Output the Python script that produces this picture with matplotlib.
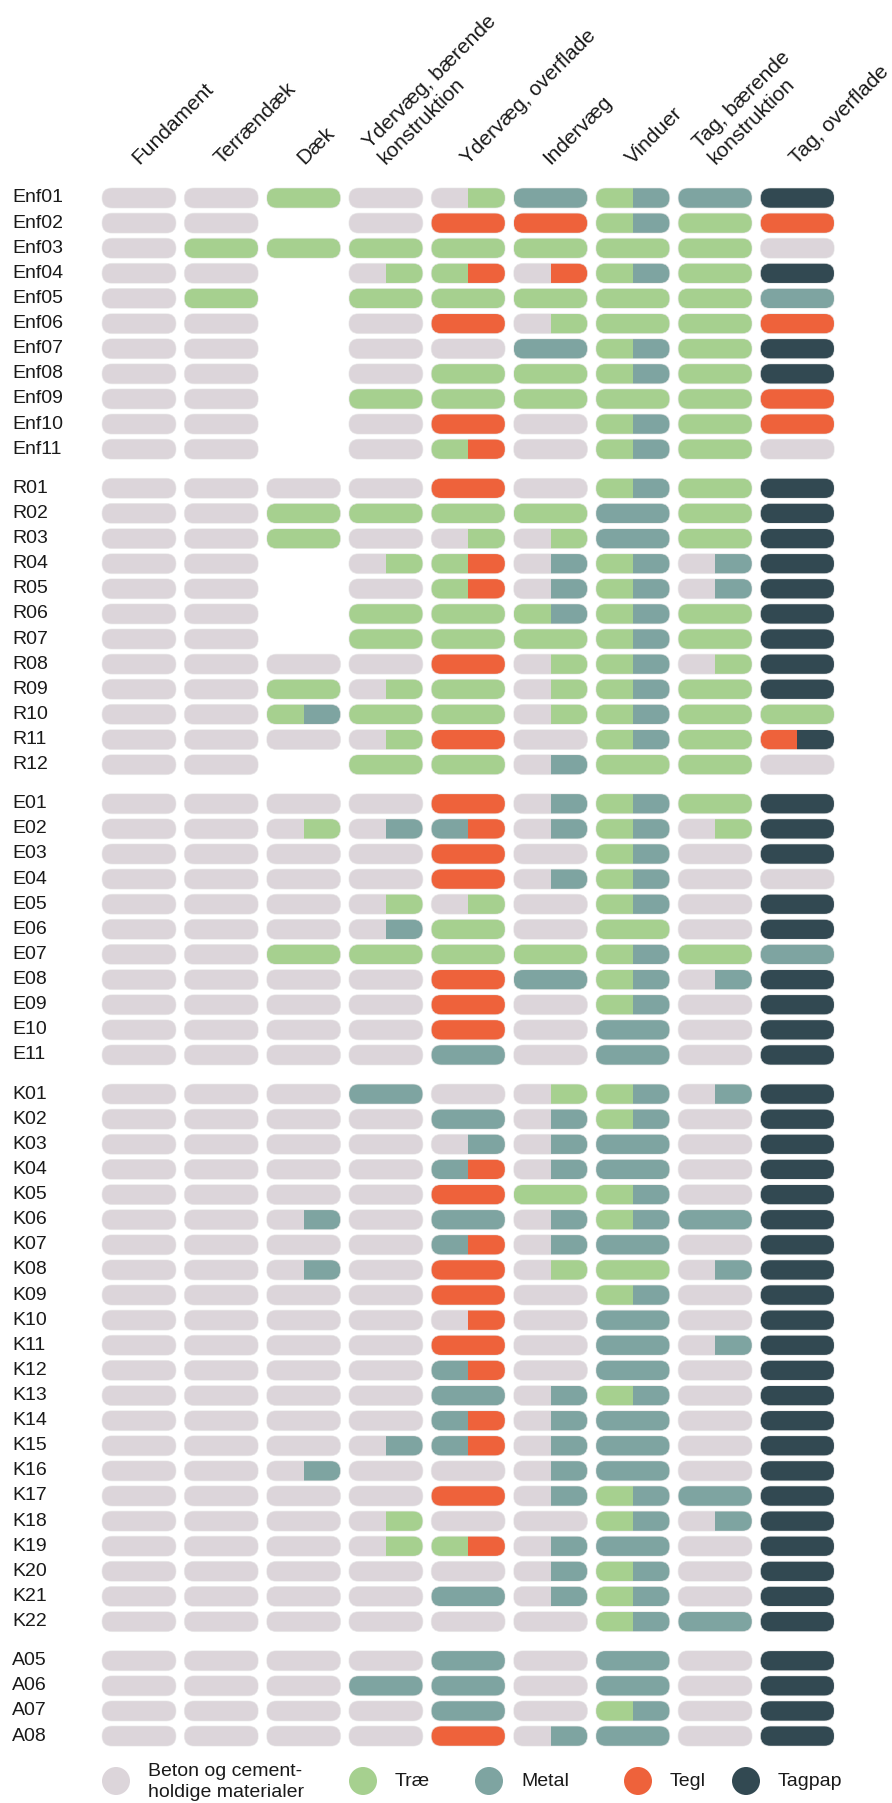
import matplotlib
matplotlib.use("Agg")
import matplotlib.pyplot as plt
from matplotlib.patches import FancyBboxPatch, Rectangle, Circle

plt.rcParams['font.family'] = ['Liberation Sans', 'DejaVu Sans']

# kolonner (bygningsdele)
columns = ["Fundament", "Terrændæk", "Dæk", "Ydervæg, bærende\nkonstruktion",
           "Ydervæg, overflade", "Indervæg", "Vinduer",
           "Tag, bærende\nkonstruktion", "Tag, overflade"]

# materialekoder: B=beton, T=træ, M=metal, G=tegl, P=tagpap, "-"=ingen
materials = ["B", "T", "M", "G", "P"]
material_names = ["Beton og cement-\nholdige materialer", "Træ", "Metal", "Tegl", "Tagpap"]
material_colors = ["#DCD5DA", "#A6D08F", "#7EA4A1", "#EE623B", "#324952"]

enf_labels = ["Enf01", "Enf02", "Enf03", "Enf04", "Enf05", "Enf06",
              "Enf07", "Enf08", "Enf09", "Enf10", "Enf11"]
enf_cells = [
    "B B T B BT M TM M P",
    "B B - B G G TM T G",
    "B T T T T T T T B",
    "B B - BT TG BG TM T P",
    "B T - T T T T T M",
    "B B - B G BT T T G",
    "B B - B B M TM T P",
    "B B - B T T TM T P",
    "B B - T T T T T G",
    "B B - B G B TM T G",
    "B B - B TG B TM T B",
]

r_labels = ["R01", "R02", "R03", "R04", "R05", "R06",
            "R07", "R08", "R09", "R10", "R11", "R12"]
r_cells = [
    "B B B B G B TM T P",
    "B B T T T T M T P",
    "B B T B BT BT M T P",
    "B B - BT TG BM TM BM P",
    "B B - B TG BM TM BM P",
    "B B - T T TM TM T P",
    "B B - T T T TM T P",
    "B B B B G BT TM BT P",
    "B B T BT T BT TM T P",
    "B B TM T T BT TM T T",
    "B B B BT G B TM T GP",
    "B B - T T BM T T B",
]

e_labels = ["E01", "E02", "E03", "E04", "E05", "E06",
            "E07", "E08", "E09", "E10", "E11"]
e_cells = [
    "B B B B G BM TM T P",
    "B B BT BM MG BM TM BT P",
    "B B B B G B TM B P",
    "B B B B G BM TM B B",
    "B B B BT BT B TM B P",
    "B B B BM T B T B P",
    "B B T T T T TM T M",
    "B B B B G M TM BM P",
    "B B B B G B TM B P",
    "B B B B G B M B P",
    "B B B B M B M B P",
]

k_labels = ["K01", "K02", "K03", "K04", "K05", "K06", "K07", "K08",
            "K09", "K10", "K11", "K12", "K13", "K14", "K15", "K16",
            "K17", "K18", "K19", "K20", "K21", "K22"]
k_cells = [
    "B B B M B BT TM BM P",
    "B B B B M BM TM B P",
    "B B B B BM BM M B P",
    "B B B B MG BM M B P",
    "B B B B G T TM B P",
    "B B BM B M BM TM M P",
    "B B B B MG BM M B P",
    "B B BM B G BT T BM P",
    "B B B B G B TM B P",
    "B B B B BG B M B P",
    "B B B B G B M BM P",
    "B B B B MG B M B P",
    "B B B B M BM TM B P",
    "B B B B MG BM M B P",
    "B B B BM MG BM M B P",
    "B B BM B B BM M B P",
    "B B B B G BM TM M P",
    "B B B BT B B TM BM P",
    "B B B BT TG BM M B P",
    "B B B B B BM TM B P",
    "B B B B M BM TM B P",
    "B B B B B B TM M P",
]

a_labels = ["A05", "A06", "A07", "A08"]
a_cells = [
    "B B B B M B M B P",
    "B B B M M B M B P",
    "B B B B M B TM B P",
    "B B B B G BM M B P",
]

groups = [(enf_labels, enf_cells), (r_labels, r_cells), (e_labels, e_cells),
          (k_labels, k_cells), (a_labels, a_cells)]

# layout (pixel units)
W, H = 892, 1803
X0, DX = 139.0, 82.3
Y0, DY, GAP = 198.0, 25.12, 14.0
PW, PH = 74.0, 20.0
color_of = dict(zip(materials, material_colors))
text_color = "#1a1a1a"

fig = plt.figure(figsize=(W / 100, H / 100), dpi=100)
ax = fig.add_axes([0, 0, 1, 1])
ax.set_xlim(0, W)
ax.set_ylim(H, 0)
ax.axis("off")


def draw_pill(cx, cy, code):
    left, right = (code[0], code[-1])
    pill = FancyBboxPatch((cx - PW / 2, cy - PH / 2), PW, PH,
                          boxstyle=f"round,pad=0,rounding_size={PH / 2}",
                          facecolor="none", edgecolor="none")
    ax.add_patch(pill)
    for x0, c in ((cx - PW / 2, left), (cx, right)):
        r = Rectangle((x0, cy - PH / 2), PW / 2, PH, facecolor=color_of[c],
                      edgecolor="none")
        ax.add_patch(r)
        r.set_clip_path(pill)
    # svag kant rundt om hver celle
    ax.add_patch(FancyBboxPatch((cx - PW / 2, cy - PH / 2), PW, PH,
                                boxstyle=f"round,pad=0,rounding_size={PH / 2}",
                                facecolor="none", edgecolor="#e6e6e6",
                                linewidth=0.6, alpha=0.7))


# column headers
for i, col in enumerate(columns):
    cx = X0 + i * DX
    ax.text(cx + 3, 168, col, rotation=45, rotation_mode="anchor",
            ha="left", va="bottom", fontsize=15, color=text_color,
            linespacing=1.2)

row = 0
for g, (labels, cells) in enumerate(groups):
    for lab, line in zip(labels, cells):
        cy = Y0 + row * DY + g * GAP
        ax.text(12, cy, lab, ha="left", va="center", fontsize=14, color=text_color)
        for i, code in enumerate(line.split()):
            if code == "-":
                continue
            draw_pill(X0 + i * DX, cy, code)
        row += 1

# legend
leg_x = [116, 363, 489, 638, 746]
leg_y = 1781
for x, name, c in zip(leg_x, material_names, material_colors):
    ax.add_patch(Circle((x, leg_y), 14, facecolor=c, edgecolor="none"))
    ax.text(x + 32, leg_y + 1, name, ha="left", va="center", fontsize=14,
            color=text_color, linespacing=1.25)

fig.savefig("out.png", dpi=100)
